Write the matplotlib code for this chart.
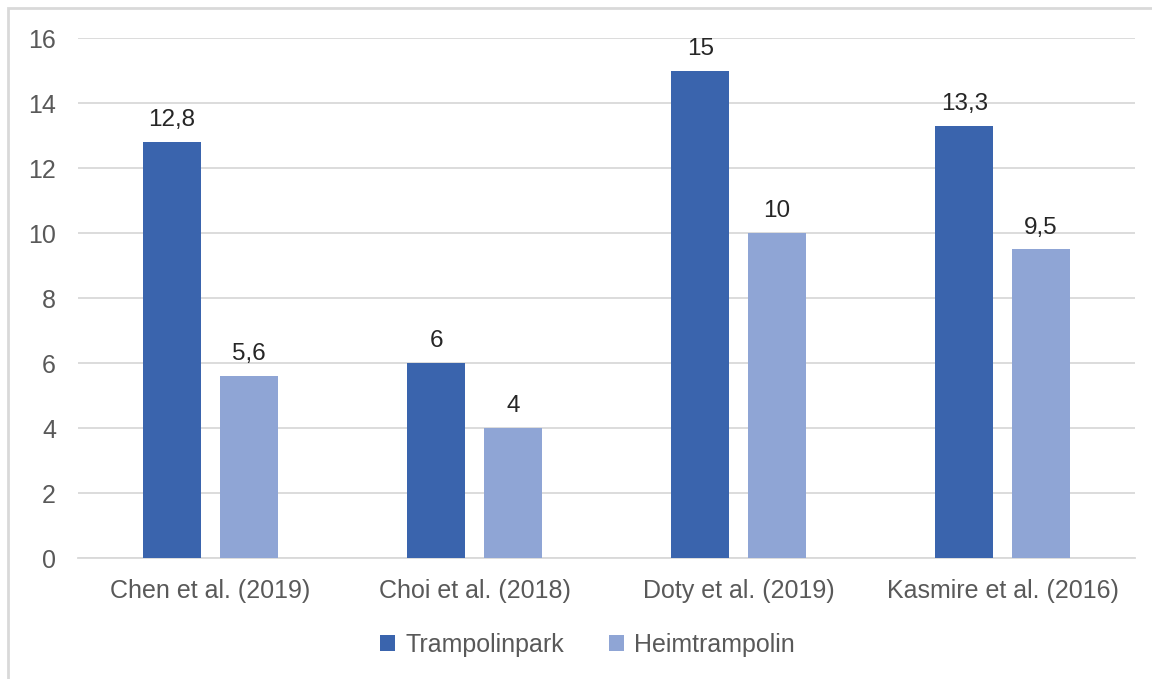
import matplotlib.pyplot as plt
import numpy as np
from matplotlib.patches import Rectangle

plt.rcParams['font.family'] = ['Liberation Sans', 'DejaVu Sans']

studies = ['Chen et al. (2019)', 'Choi et al. (2018)', 'Doty et al. (2019)', 'Kasmire et al. (2016)']
trampolinpark = [12.8, 6, 15, 13.3]
heimtrampolin = [5.6, 4, 10, 9.5]
labels_park = ['12,8', '6', '15', '13,3']
labels_heim = ['5,6', '4', '10', '9,5']

dark = '#3A64AD'
light = '#8FA5D5'

fig = plt.figure(figsize=(11.52, 6.79), dpi=100)
ax = fig.add_axes([0.068, 0.178, 0.917, 0.766])

x = np.arange(len(studies))
w = 0.22
off = 0.145
b1 = ax.bar(x - off, trampolinpark, w, color=dark, label='Trampolinpark', zorder=3)
b2 = ax.bar(x + off, heimtrampolin, w, color=light, label='Heimtrampolin', zorder=3)

# Datenbeschriftungen
for bars, labs in [(b1, labels_park), (b2, labels_heim)]:
    for r, t in zip(bars, labs):
        ax.text(r.get_x() + r.get_width() / 2, r.get_height() + 0.33, t,
                ha='center', va='bottom', fontsize=17.5, color='#262626')

ax.set_xlim(-0.5, 3.5)
ax.set_ylim(0, 16)
ax.set_yticks(range(0, 17, 2))
ax.set_xticks(x)
ax.set_xticklabels(studies)
ax.grid(axis='y', color='#d9d9d9', lw=1.3, zorder=0)
for s in ['top', 'right', 'left']:
    ax.spines[s].set_visible(False)
ax.spines['bottom'].set_color('#d9d9d9')
ax.spines['bottom'].set_linewidth(1.3)
ax.tick_params(length=0, labelsize=18, colors='#595959')
ax.tick_params(axis='y', pad=16)
ax.tick_params(axis='x', pad=15)

fig.legend(handles=[b1, b2], loc='center', bbox_to_anchor=(0.51, 0.05), ncol=2,
           frameon=False, fontsize=18, handlelength=0.6, handleheight=0.6,
           columnspacing=1.8, handletextpad=0.4, labelcolor='#595959')

# Rahmen
fig.patches.append(Rectangle((8 / 1152, -0.1), 1.2, 1 - 8 / 679 + 0.1,
                             transform=fig.transFigure, fill=False,
                             edgecolor='#d9d9d9', lw=2))

fig.savefig('out.png', dpi=100)
